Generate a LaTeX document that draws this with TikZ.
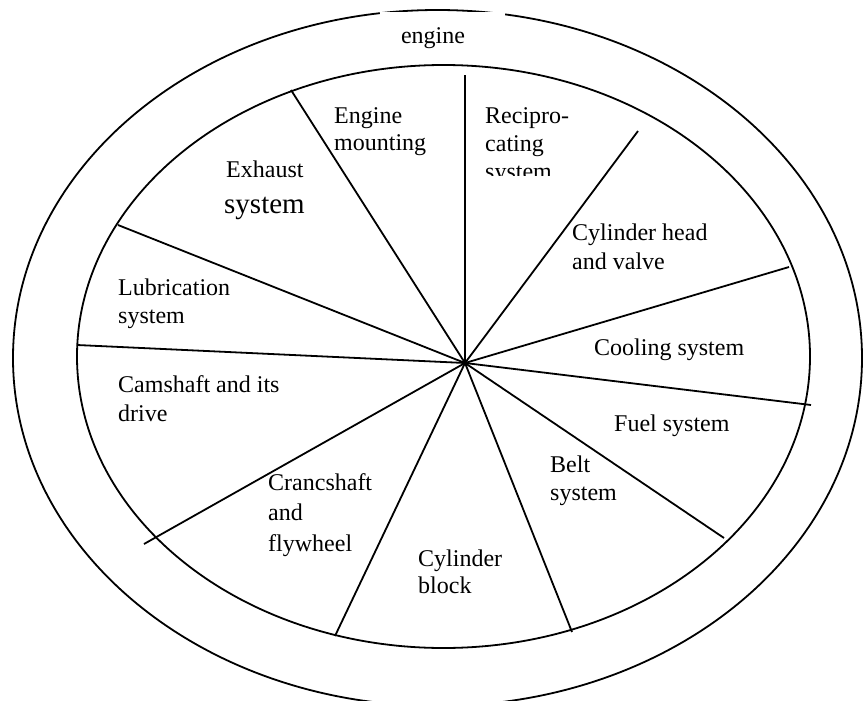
\documentclass[tikz,border=0pt]{standalone}
\usepackage{fontspec}
\setmainfont{Liberation Serif}
\begin{document}
\begin{tikzpicture}[x=1pt,y=-1pt,
  rim/.style={line width=1.8pt},
  spoke/.style={line width=1.8pt},
  lbl/.style={anchor=base west, inner sep=0pt, font=\fontsize{24}{28}\selectfont},
  biglbl/.style={anchor=base west, inner sep=0pt, font=\fontsize{29}{33}\selectfont}]
\useasboundingbox (0,0) rectangle (865,701);

% outer and inner rings
\draw[rim] (437.5,358) ellipse [x radius=424.5pt, y radius=348pt];
\draw[rim] (443.5,356.5) ellipse [x radius=366.5pt, y radius=291.5pt];

% title cut into the outer ring
\fill[white] (380,12.2) rectangle (505,52);
\node[anchor=base, inner sep=0pt, font=\fontsize{24}{28}\selectfont] (title) at (433,44) {engine};

% hub and spoke ends
\coordinate (hub) at (465,363);
\coordinate (e1) at (465,75);
\coordinate (e2) at (638,131);
\coordinate (e3) at (789,267);
\coordinate (e4) at (811,405);
\coordinate (e5) at (724,538);
\coordinate (e6) at (572,632);
\coordinate (e7) at (335,636);
\coordinate (e8) at (144,544);
\coordinate (e9) at (77,345);
\coordinate (e10) at (118,225);
\coordinate (e11) at (291,90);
\foreach \k in {1,...,11} \draw[spoke] (hub) -- (e\k);

% sector labels
\node[lbl] (mnt1) at (334,123) {Engine};
\node[lbl] (mnt2) at (334,150) {mounting};

\begin{scope}
  \clip (478,95) rectangle (600,175);
  \node[lbl] (rec1) at (485,123) {Recipro-};
  \node[lbl] (rec2) at (485,151) {cating};
  \node[lbl] (rec3) at (485,179) {system};
\end{scope}

\node[lbl] (exh1) at (226,177) {Exhaust};
\node[biglbl] (exh2) at (224,213) {system};

\node[lbl] (cyh1) at (572,240) {Cylinder head};
\node[lbl] (cyh2) at (572,269) {and valve};

\node[lbl] (lub1) at (118,295) {Lubrication};
\node[lbl] (lub2) at (118,323) {system};

\node[lbl] (cool) at (594,355) {Cooling system};

\node[lbl] (cam1) at (118,392) {Camshaft and its};
\node[lbl] (cam2) at (118,421) {drive};

\node[lbl] (fuel) at (614,431) {Fuel system};

\node[lbl] (crk1) at (268,490) {Crancshaft};
\node[lbl] (crk2) at (268,520) {and};
\node[lbl] (crk3) at (268,551) {flywheel};

\node[lbl] (blt1) at (550,472) {Belt};
\node[lbl] (blt2) at (550,500) {system};

\node[lbl] (blk1) at (418,566) {Cylinder};
\node[lbl] (blk2) at (418,593) {block};
\end{tikzpicture}
\end{document}
